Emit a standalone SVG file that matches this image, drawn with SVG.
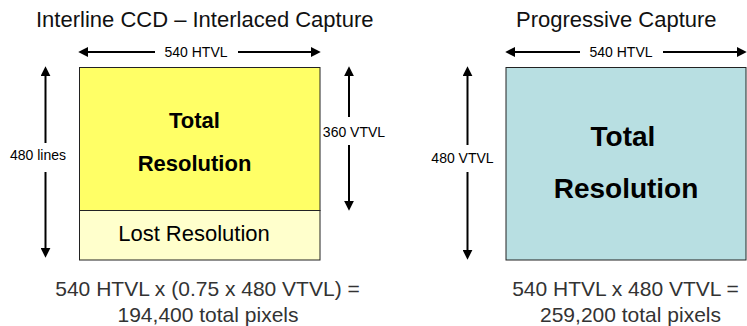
<svg xmlns="http://www.w3.org/2000/svg" width="747" height="326" viewBox="0 0 747 326">
<defs>
<marker id="ah" markerUnits="userSpaceOnUse" markerWidth="10" markerHeight="10" viewBox="0 0 9 9" refX="2" refY="4.5" orient="auto">
<path d="M0,0 L9,4.5 L0,9 z" fill="#000"/>
</marker>
</defs>
<style>
text{font-family:"Liberation Sans",Arial,sans-serif}
.title{font-size:22px;fill:#111}
.lbl{font-size:14px;fill:#000}
.big{font-weight:bold;fill:#000}
.eq{font-size:21px;fill:#333}
.arr{stroke:#000;stroke-width:2;fill:none;marker-end:url(#ah)}
.box{stroke:#222;stroke-width:1}
</style>
<rect width="747" height="326" fill="#fff"/>
<text class="title" x="36" y="27">Interline CCD – Interlaced Capture</text>
<text class="title" x="516" y="27">Progressive Capture</text>
<g id="interlaced-box">
<rect class="box" x="79.5" y="67.5" width="240.5" height="143" fill="#FFFF66"/>
<rect class="box" x="79.5" y="210.5" width="240.5" height="49.5" fill="#FFFFCC"/>
<text class="big" x="194.5" y="128" font-size="22" text-anchor="middle">Total</text>
<text class="big" x="194.5" y="171" font-size="22" text-anchor="middle">Resolution</text>
<text x="194" y="240.5" font-size="22" fill="#000" text-anchor="middle">Lost Resolution</text>
</g>
<g id="progressive-box">
<rect class="box" x="506" y="67.5" width="240" height="192.5" fill="#B8DFE2"/>
<text class="big" x="623" y="146" font-size="28" text-anchor="middle">Total</text>
<text class="big" x="626" y="198" font-size="28" text-anchor="middle">Resolution</text>
</g>
<g id="connectors">
<line class="arr" x1="155" y1="52" x2="86" y2="52"/>
<line class="arr" x1="238" y1="52" x2="313" y2="52"/>
<line class="arr" x1="45.5" y1="143" x2="45.5" y2="74"/>
<line class="arr" x1="45.5" y1="172" x2="45.5" y2="250"/>
<line class="arr" x1="349" y1="117" x2="349" y2="74"/>
<line class="arr" x1="349" y1="145" x2="349" y2="203"/>
<line class="arr" x1="580" y1="52" x2="513" y2="52"/>
<line class="arr" x1="663" y1="52" x2="739" y2="52"/>
<line class="arr" x1="467.5" y1="145" x2="467.5" y2="74"/>
<line class="arr" x1="467.5" y1="172" x2="467.5" y2="252"/>
</g>
<g id="labels">
<text class="lbl" x="196" y="57" text-anchor="middle">540 HTVL</text>
<text class="lbl" x="621" y="57" text-anchor="middle">540 HTVL</text>
<text class="lbl" x="38" y="160" text-anchor="middle">480 lines</text>
<text class="lbl" x="354" y="137" text-anchor="middle">360 VTVL</text>
<text class="lbl" x="462.5" y="163" text-anchor="middle">480 VTVL</text>
</g>
<g id="equations">
<text class="eq" x="207.5" y="296" text-anchor="middle">540 HTVL x (0.75 x 480 VTVL) =</text>
<text class="eq" x="208" y="321.5" text-anchor="middle">194,400 total pixels</text>
<text class="eq" x="625.5" y="296" text-anchor="middle">540 HTVL x 480 VTVL =</text>
<text class="eq" x="630.5" y="321.5" text-anchor="middle">259,200 total pixels</text>
</g>
</svg>
